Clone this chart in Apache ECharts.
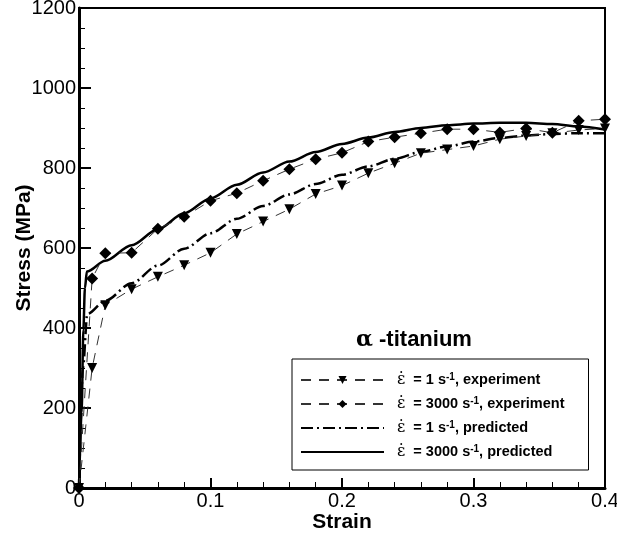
<!DOCTYPE html>
<html>
<head>
<meta charset="utf-8">
<script src="https://cdn.jsdelivr.net/npm/echarts@6/dist/echarts.min.js"></script>
<style>html,body{margin:0;padding:0;background:#fff}#c{width:617px;height:536px}</style>
</head>
<body>
<div id="c"></div>
<script>
// Experimental data, strain rate 1 s^-1 (triangles)
const exp1Strain = [0, 0.01, 0.02, 0.04, 0.06, 0.08, 0.10, 0.12, 0.14, 0.16, 0.18, 0.20, 0.22, 0.24, 0.26, 0.28, 0.30, 0.32, 0.34, 0.36, 0.38, 0.40];
const exp1Stress = [0, 300, 457, 497, 528, 557, 588, 635, 666, 697, 735, 756, 787, 812, 837, 846, 855, 872, 880, 887, 895, 899];
// Experimental data, strain rate 3000 s^-1 (diamonds)
const exp3000Strain = [0, 0.01, 0.02, 0.04, 0.06, 0.08, 0.10, 0.12, 0.14, 0.16, 0.18, 0.20, 0.22, 0.24, 0.26, 0.28, 0.30, 0.32, 0.34, 0.36, 0.38, 0.40];
const exp3000Stress = [0, 524, 587, 588, 648, 678, 718, 737, 768, 797, 822, 838, 866, 877, 887, 897, 897, 889, 899, 888, 918, 922];
// Predicted, 1 s^-1 (dash-dot)
const pred1Strain = [0, 0.003, 0.0063, 0.02, 0.04, 0.06, 0.08, 0.10, 0.12, 0.14, 0.16, 0.18, 0.20, 0.22, 0.24, 0.26, 0.28, 0.30, 0.32, 0.34, 0.36, 0.38, 0.40];
const pred1Stress = [0, 300, 435, 468, 512, 556, 598, 637, 673, 705, 734, 760, 783, 804, 823, 840, 854, 866, 875, 881, 885, 887, 887];
// Predicted, 3000 s^-1 (solid)
const pred3000Strain = [0, 0.002, 0.0033, 0.0045, 0.006, 0.02, 0.04, 0.06, 0.08, 0.10, 0.12, 0.14, 0.16, 0.18, 0.20, 0.22, 0.24, 0.26, 0.28, 0.30, 0.32, 0.34, 0.36, 0.38, 0.40];
const pred3000Stress = [0, 190, 395, 500, 541, 568, 607, 647, 687, 724, 758, 789, 816, 840, 860, 876, 890, 900, 907, 911, 913, 913, 910, 904, 896];

const xTicks = [0, 0.1, 0.2, 0.3, 0.4];
const yTicks = [0, 200, 400, 600, 800, 1000, 1200];

const legendNames = ['exp1', 'exp3000', 'pred1', 'pred3000'];
const legendRates = ['1', '3000', '1', '3000'];
const legendKinds = ['experiment', 'experiment', 'predicted', 'predicted'];

function pairs(xs, ys) { return xs.map((x, i) => [x, ys[i]]); }

const chart = echarts.init(document.getElementById('c'));
const font = 'Liberation Sans, Arial, sans-serif';

const option = {
  animation: false,
  backgroundColor: '#fff',
  grid: { left: 79, right: 12, top: 8, bottom: 48, show: true, borderColor: '#000', borderWidth: 2, containLabel: false, outerBoundsMode: 'none' },
  title: {
    text: '{a|α}{b| -titanium}',
    left: 351, top: 324,
    textStyle: {
      rich: {
        a: { fontFamily: 'DejaVu Serif, serif', fontSize: 22, color: '#000' },
        b: { fontFamily: font, fontWeight: 'bold', fontSize: 22, color: '#000' }
      }
    }
  },
  legend: {
    data: legendNames.map((n, i) => i < 2 ? { name: n } : { name: n, itemStyle: { opacity: 0 } }),
    orient: 'vertical',
    left: 292, top: 359,
    padding: [13, 24, 10, 8],
    itemGap: 8,
    itemWidth: 83,
    itemHeight: 10,
    borderColor: '#000', borderWidth: 1,
    backgroundColor: '#fff',
    formatter: function (name) {
      const i = legendNames.indexOf(name);
      return '{e|ε̇}{t|  = ' + legendRates[i] + ' s}{s|-1}{t|, ' + legendKinds[i] + '}';
    },
    textStyle: {
      rich: {
        e: { fontFamily: 'DejaVu Serif, serif', fontSize: 16, color: '#000', padding: [0, 0, 0, 8], lineHeight: 16 },
        t: { fontFamily: font, fontWeight: 'bold', fontSize: 14.5, color: '#000', lineHeight: 16 },
        s: { fontFamily: font, fontWeight: 'bold', fontSize: 10, color: '#000', verticalAlign: 'top', lineHeight: 10 }
      }
    }
  },
  xAxis: {
    type: 'value', min: 0, max: 0.4, interval: 0.1,
    name: 'Strain', nameLocation: 'middle', nameGap: 24, nameMoveOverlap: false,
    nameTextStyle: { fontFamily: font, fontWeight: 'bold', fontSize: 21, color: '#000' },
    axisLine: { show: true, onZero: false, lineStyle: { color: '#000', width: 3 } },
    axisTick: { show: true, inside: true, length: 10, lineStyle: { color: '#000', width: 2 } },
    minorTick: { show: true, splitNumber: 5, length: 6, lineStyle: { color: '#000', width: 1 } },
    splitLine: { show: false },
    axisLabel: { fontFamily: font, fontSize: 20, color: '#000', margin: 3,
      formatter: v => { const t = xTicks.find(k => Math.abs(k - v) < 1e-9); return t === undefined ? '' : String(t); } }
  },
  yAxis: {
    type: 'value', min: 0, max: 1200, interval: 200,
    name: 'Stress (MPa)', nameLocation: 'middle', nameGap: 44, nameMoveOverlap: false,
    nameTextStyle: { fontFamily: font, fontWeight: 'bold', fontSize: 21, color: '#000' },
    axisLine: { show: true, onZero: false, lineStyle: { color: '#000', width: 3 } },
    axisTick: { show: true, inside: true, length: 12, lineStyle: { color: '#000', width: 2 } },
    minorTick: { show: true, splitNumber: 4, length: 6, lineStyle: { color: '#000', width: 1 } },
    splitLine: { show: false },
    axisLabel: { fontFamily: font, fontSize: 20, color: '#000', margin: 3,
      formatter: v => { const t = yTicks.find(k => Math.abs(k - v) < 1e-9); return t === undefined ? '' : String(t); } }
  },
  series: [
    {
      name: 'exp1', type: 'line', data: pairs(exp1Strain, exp1Stress),
      symbol: 'triangle', symbolRotate: 180, symbolSize: 10,
      itemStyle: { color: '#000' },
      lineStyle: { color: '#333', width: 1, type: [10, 8] }, z: 3
    },
    {
      name: 'exp3000', type: 'line', data: pairs(exp3000Strain, exp3000Stress),
      symbol: 'diamond', symbolSize: 12,
      itemStyle: { color: '#000' },
      lineStyle: { color: '#333', width: 1, type: [10, 8] }, z: 3
    },
    {
      name: 'pred1', type: 'line', data: pairs(pred1Strain, pred1Stress),
      symbol: 'none', smooth: 0.3, smoothMonotone: 'x',
      itemStyle: { color: '#000' },
      lineStyle: { color: '#000', width: 2.5, type: [12, 4, 2, 4] }, z: 2
    },
    {
      name: 'pred3000', type: 'line', data: pairs(pred3000Strain, pred3000Stress),
      symbol: 'none', smooth: 0.3, smoothMonotone: 'x',
      itemStyle: { color: '#000' },
      lineStyle: { color: '#000', width: 2.5 }, z: 2
    }
  ]
};
chart.setOption(option);
</script>
</body>
</html>
